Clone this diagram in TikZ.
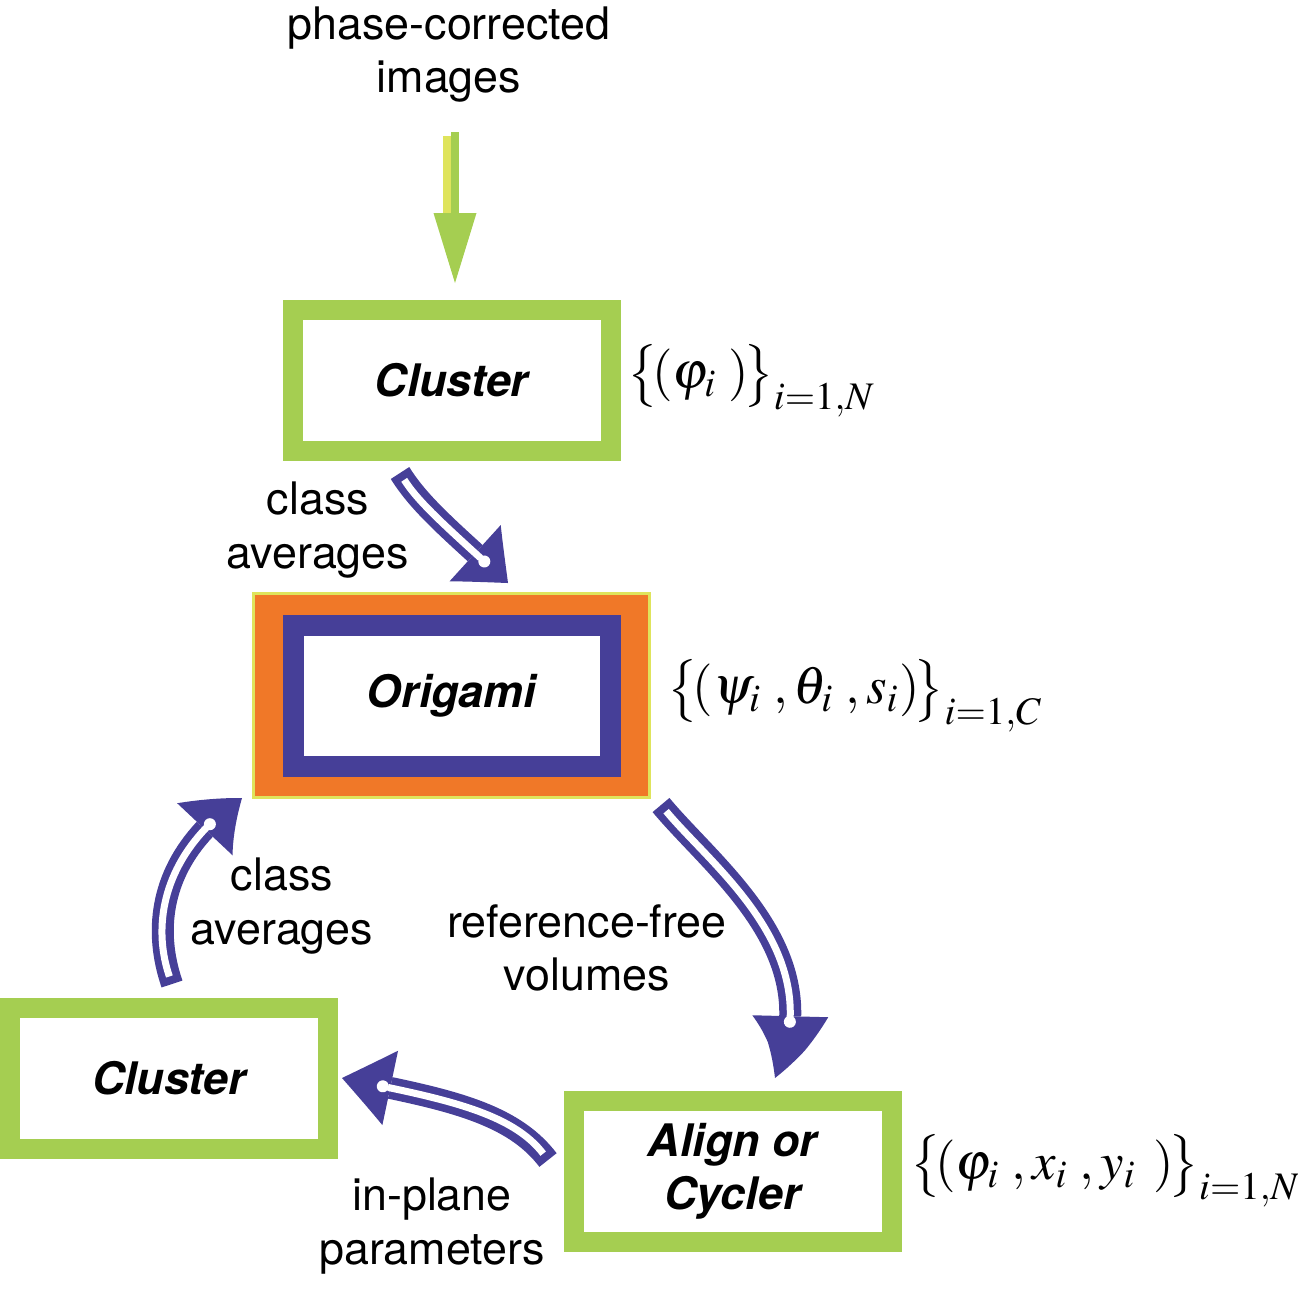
\documentclass[tikz,border=0pt]{standalone}
\usepackage{mathptmx}
\usepackage[no-math]{fontspec}
\setmainfont{TeX Gyre Heros}
\usetikzlibrary{arrows.meta,bending,positioning}
\definecolor{boxgreen}{HTML}{A5CE51}
\definecolor{loopblue}{HTML}{463F98}
\definecolor{frameorange}{HTML}{F07828}
\definecolor{frameyellow}{HTML}{DFE45C}

\begin{document}
\begin{tikzpicture}[x=0.1mm,y=-0.1mm,font=\fontsize{12.75}{15.1}\selectfont,
 stage/.style={draw=boxgreen,line width=2mm,fill=white,minimum width=31.8mm,minimum height=14.1mm,align=center,font=\fontsize{12.75}{15.1}\selectfont\bfseries\itshape},
 core/.style={stage,draw=loopblue,line width=2.1mm,minimum width=31.7mm},
 coreframe/.style={fill=frameorange,draw=frameyellow,line width=0.3mm,minimum width=39.6mm,minimum height=20.4mm},
 tag/.style={align=center,inner sep=0pt},
 setlabel/.style={font=\fontsize{15}{18}\selectfont,inner sep=0pt},
 feedback/.style 2 args={draw=loopblue,line width=2.2mm,-{Triangle[length=#1,width=7.6mm,line width=0pt,bend]},
  postaction={draw=white,line width=0.7mm,shorten <=0.8mm,shorten >=#2,-{Circle[length=1.2mm,line width=0pt]}}},
 inflow/.style={draw=boxgreen,line width=0.8mm,-{Triangle[length=7mm,width=4.3mm,line width=0pt]}}]
\useasboundingbox (0,0) rectangle (1298,1288);
\node[stage] (clustertop) at (451.5,380.5) {Cluster};
\node[coreframe] (frame) at (451.5,695.5) {};
\node[core] (origami) at (frame.center) {Origami};
\node[stage] (clusterlow) at (169,1078) {Cluster};
\node[stage] (align) at (732.5,1171) {Align or\\Cycler};
\node[tag] (input) at (449,55) {phase-corrected\\images};
\node[tag] (avgtop) at (318,530) {class\\averages};
\node[tag] (avglow) at (282,906) {class\\averages};
\node[tag] (volumes) at (587,948) {reference-free\\volumes};
\node[tag] (inplane) at (432,1226) {in-plane\\parameters};
\node[setlabel,right=0.6mm of clustertop] (setN) {$\bigl\{\!(\varphi_i\;)\!\bigr\}_{i=1,N}$};
\node[setlabel,right=1.6mm of frame] (setC) {$\bigl\{\!(\psi_i\;,\theta_i\;,s_i)\!\bigr\}_{i=1,C}$};
\node[setlabel,right=0.8mm of align] (setXY) {$\bigl\{\!(\varphi_i\;,x_i\;,y_i\;\,)\!\bigr\}_{i=1,N}$};
\coordinate (feed) at (455,132);
\coordinate (strip) at (447,136);
\draw[draw=frameyellow,line width=0.8mm] (strip) -- ++(0,77);
\draw[inflow,shorten >=1.7mm] (feed) -- (feed |- clustertop.north);
\coordinate (a0) at (400,473); \coordinate (a1) at (508,583);
\coordinate (c0) at (661,805); \coordinate (c1) at (775,1078);
\coordinate (d0) at (548,1160); \coordinate (d1) at (342,1078);
\coordinate (b0) at (172,984); \coordinate (b1) at (242,798);
\draw[feedback={4.5mm}{2.6mm}] (a0) .. controls (420,505) and (450,530) .. (a1);
\draw[feedback={6.8mm}{5.5mm}] (c0) .. controls (715,870) and (832,955) .. (c1);
\draw[feedback={5mm}{3.6mm}] (d0) .. controls (510,1110) and (440,1098) .. (d1);
\draw[feedback={5mm}{3.6mm}] (b0) .. controls (150,920) and (165,850) .. (b1);
\end{tikzpicture}
\end{document}
